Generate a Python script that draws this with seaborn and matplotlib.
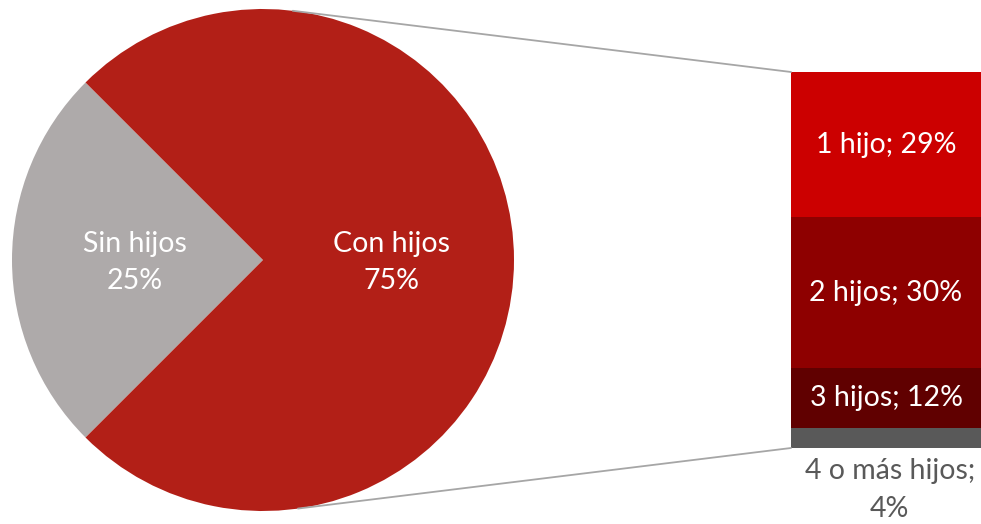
import numpy as np
import matplotlib
matplotlib.use("Agg")
import matplotlib.pyplot as plt
import seaborn as sns
import pandas as pd
from matplotlib.patches import ConnectionPatch

sns.set_theme(style="white")
plt.rcParams['font.family'] = ['Lato', 'DejaVu Sans']

# ---- data ----
pie_labels = ["Sin hijos", "Con hijos"]
pie_values = [25, 75]
pie_colors = ["#AEAAAA", "#B21F17"]

bar_labels = ["1 hijo", "2 hijos", "3 hijos", "4 o más hijos"]
bar_values = [29, 30, 12, 4]
bar_colors = ["#CC0000", "#8E0000", "#600000", "#595959"]

W, H = 981, 524
FS = 20.5
fig = plt.figure(figsize=(W / 100, H / 100), dpi=100)
fig.patch.set_facecolor("white")

# ---- pie ----
cx, cy, r = 263, 260, 251
ax_pie = fig.add_axes([(cx - r) / W, (H - cy - r) / H, 2 * r / W, 2 * r / H])
start = 180 - pie_values[0] / 100 * 360 / 2
wedges, _ = ax_pie.pie(pie_values, colors=pie_colors, startangle=start,
                       counterclock=True, radius=1,
                       wedgeprops=dict(linewidth=0))
ax_pie.set_xlim(-1, 1)
ax_pie.set_ylim(-1, 1)
ax_pie.set_aspect("equal")
ax_pie.axis("off")
for w, lab, v in zip(wedges, pie_labels, pie_values):
    mid = np.deg2rad((w.theta1 + w.theta2) / 2)
    d = 0.51
    ax_pie.text(d * np.cos(mid), d * np.sin(mid) - 0.01, f"{lab}\n{v}%",
                ha="center", va="center", color="white", fontsize=FS,
                linespacing=1.55)

# ---- stacked bar ----
bx0, bx1, by0, by1 = 791, 981, 72, 448
ax_bar = fig.add_axes([bx0 / W, (H - by1) / H, (bx1 - bx0) / W, (by1 - by0) / H])
total = sum(bar_values)
cum_tops = np.cumsum(bar_values[::-1])[::-1]  # top of each segment
df = pd.DataFrame({"x": ["o"] * len(bar_labels), "top": cum_tops,
                   "label": bar_labels})
for i in range(len(bar_labels)):
    sns.barplot(data=df.iloc[[i]], x="x", y="top", color=bar_colors[i],
                width=1.0, ax=ax_bar, saturation=1, linewidth=0)
ax_bar.set_xlim(-0.5, 0.5)
ax_bar.set_ylim(0, total)
ax_bar.axis("off")

for i, (lab, v) in enumerate(zip(bar_labels, bar_values)):
    top = cum_tops[i]
    mid = top - v / 2
    if i < len(bar_labels) - 1:
        ax_bar.text(0, mid, f"{lab}; {v}%", ha="center", va="center",
                    color="white", fontsize=FS)
    else:
        ax_bar.text(0.02, -2.0, f"{lab};\n{v}%", ha="center", va="top",
                    color="#595959", fontsize=FS, linespacing=1.55,
                    clip_on=False)

# ---- connector lines ----
for ang, yb in [(83.2, total), (-82.0, 0)]:
    a = np.deg2rad(ang)
    con = ConnectionPatch(xyA=(np.cos(a), np.sin(a)), coordsA=ax_pie.transData,
                          xyB=(-0.5, yb), coordsB=ax_bar.transData,
                          color="#A6A6A6", linewidth=1.3)
    fig.add_artist(con)

fig.savefig("out.png", dpi=100, facecolor="white")
